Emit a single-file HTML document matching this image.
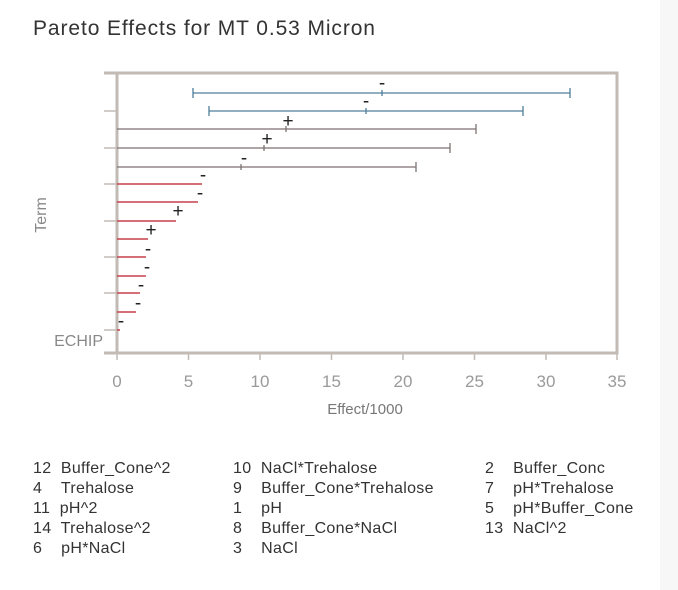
<!DOCTYPE html>
<html><head><meta charset="utf-8"><style>
body{margin:0;background:#f7f7f7;}
.card{position:absolute;left:0;top:0;width:660px;height:590px;background:#fff;}
svg{position:absolute;left:0;top:0;}
text{font-family:"Liberation Sans",sans-serif;white-space:pre;}
</style></head><body><div class="card"></div>
<svg width="678" height="590" viewBox="0 0 678 590">
<text x="33" y="35" font-size="21" fill="#333" letter-spacing="0.9">Pareto Effects for MT 0.53 Micron</text>
<g stroke="#c2bab5" stroke-width="3" fill="none">
<rect x="117" y="73" width="500" height="280"/>
<line x1="104" y1="73" x2="117" y2="73"/>
<line x1="104" y1="353" x2="117" y2="353"/>
</g>
<g stroke="#c2bab5" stroke-width="1.5">
<line x1="104" y1="111" x2="117" y2="111"/><line x1="104" y1="148" x2="117" y2="148"/>
<line x1="104" y1="184" x2="117" y2="184"/><line x1="104" y1="221" x2="117" y2="221"/>
<line x1="104" y1="257" x2="117" y2="257"/><line x1="104" y1="293" x2="117" y2="293"/>
<line x1="104" y1="330" x2="117" y2="330"/>
<line x1="117" y1="353" x2="117" y2="360"/><line x1="188.5" y1="353" x2="188.5" y2="360"/>
<line x1="260" y1="353" x2="260" y2="360"/><line x1="331.5" y1="353" x2="331.5" y2="360"/>
<line x1="403" y1="353" x2="403" y2="360"/><line x1="474.5" y1="353" x2="474.5" y2="360"/>
<line x1="546" y1="353" x2="546" y2="360"/><line x1="617" y1="353" x2="617" y2="360"/>
</g>
<g font-size="17" fill="#9a9a9a" text-anchor="middle">
<text x="117" y="387">0</text><text x="188.5" y="387">5</text><text x="260" y="387">10</text><text x="331.5" y="387">15</text><text x="403" y="387">20</text><text x="474.5" y="387">25</text><text x="546" y="387">30</text><text x="617" y="387">35</text>
</g>
<text x="365" y="414" font-size="15" fill="#777" text-anchor="middle">Effect/1000</text>
<text x="103" y="346" font-size="16" fill="#888" text-anchor="end">ECHIP</text>
<text transform="translate(46,215) rotate(-90)" font-size="16" fill="#888" text-anchor="middle">Term</text>
<g stroke="#4f7f9c" stroke-width="1.3">
<line x1="193" y1="93" x2="570" y2="93"/><line x1="193" y1="88" x2="193" y2="98"/><line x1="570" y1="88" x2="570" y2="98"/><line x1="382" y1="90" x2="382" y2="96"/>
<line x1="209" y1="111" x2="523" y2="111"/><line x1="209" y1="106" x2="209" y2="116"/><line x1="523" y1="106" x2="523" y2="116"/><line x1="366" y1="108" x2="366" y2="114"/>
</g>
<g stroke="#7d7272" stroke-width="1.3">
<line x1="117" y1="129" x2="476" y2="129"/><line x1="476" y1="124" x2="476" y2="134"/><line x1="286" y1="126" x2="286" y2="132"/>
<line x1="117" y1="148" x2="450" y2="148"/><line x1="450" y1="143" x2="450" y2="153"/><line x1="264" y1="145" x2="264" y2="151"/>
<line x1="117" y1="167" x2="416" y2="167"/><line x1="416" y1="162" x2="416" y2="172"/><line x1="241" y1="164" x2="241" y2="170"/>
</g>
<g stroke="#c8414b" stroke-width="1.5">
<line x1="117" y1="184" x2="202" y2="184"/><line x1="117" y1="202" x2="198" y2="202"/>
<line x1="117" y1="221" x2="176" y2="221"/><line x1="117" y1="239" x2="148" y2="239"/>
<line x1="117" y1="257" x2="146" y2="257"/><line x1="117" y1="276" x2="146" y2="276"/>
<line x1="117" y1="293" x2="140" y2="293"/><line x1="117" y1="312" x2="136" y2="312"/>
<line x1="117" y1="330" x2="120" y2="330"/>
</g>
<g font-size="19" fill="#222" text-anchor="middle">
<text x="382" y="89">-</text><text x="366" y="107">-</text><text x="288" y="127">+</text><text x="267" y="145">+</text>
<text x="244" y="164">-</text><text x="203" y="181">-</text><text x="200" y="199">-</text><text x="178" y="217">+</text>
<text x="151" y="236">+</text><text x="148" y="255">-</text><text x="147" y="273">-</text><text x="141" y="291">-</text>
<text x="138" y="309">-</text><text x="121" y="327">-</text>
</g>
<g font-size="16" fill="#333" letter-spacing="0.3">
<text x="33" y="473">12  Buffer_Cone^2</text><text x="33" y="493">4    Trehalose</text><text x="33" y="513">11  pH^2</text><text x="33" y="533">14  Trehalose^2</text><text x="33" y="553">6    pH*NaCl</text>
<text x="233" y="473">10  NaCl*Trehalose</text><text x="233" y="493">9    Buffer_Cone*Trehalose</text><text x="233" y="513">1    pH</text><text x="233" y="533">8    Buffer_Cone*NaCl</text><text x="233" y="553">3    NaCl</text>
<text x="485" y="473">2    Buffer_Conc</text><text x="485" y="493">7    pH*Trehalose</text><text x="485" y="513">5    pH*Buffer_Cone</text><text x="485" y="533">13  NaCl^2</text>
</g>
</svg></body></html>
